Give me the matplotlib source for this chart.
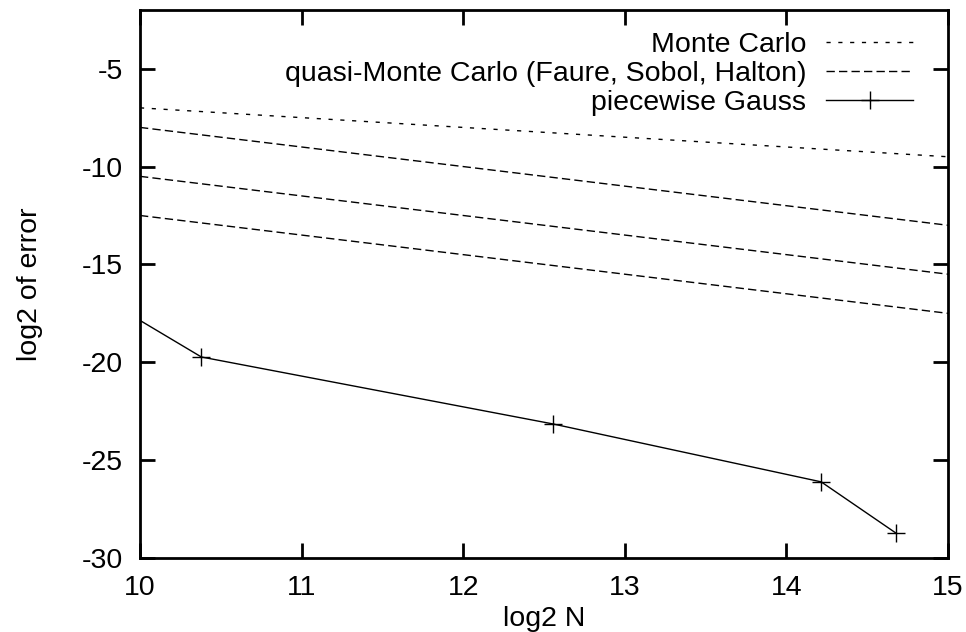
import matplotlib
matplotlib.use("Agg")
import matplotlib.pyplot as plt
import numpy as np

plt.rcParams['font.family'] = ['Liberation Sans', 'DejaVu Sans']

# convergence reference lines: log2 error at log2 N = 10 and 15
x_ends = [10, 15]
mc_err = [-7.0, -9.5]
qmc_errs = [
    [-8.0, -13.0],
    [-10.5, -15.5],
    [-12.5, -17.5],
]

# piecewise Gauss quadrature results
gauss_log2n = [9.0, 10.38, 12.555, 14.215, 14.68]
gauss_err = [-12.94, -19.73, -23.15, -26.11, -28.74]

x_ticks = [10, 11, 12, 13, 14, 15]
y_ticks = [-30, -25, -20, -15, -10, -5]

FS = 20.5

fig = plt.figure(figsize=(9.66, 6.32), dpi=100)
ax = fig.add_axes([0.1449, 0.1171, 0.9814 - 0.1449, 0.9842 - 0.1171])

lw = 1.0
mc_line, = ax.plot(x_ends, mc_err, color='black', lw=lw,
                   dashes=(3, 5.5), label='Monte Carlo')
qmc_line = None
for i, ys in enumerate(qmc_errs):
    ln, = ax.plot(x_ends, ys, color='black', lw=lw, dashes=(6, 3),
                  label='quasi-Monte Carlo (Faure, Sobol, Halton)' if i == 0 else None)
    if i == 0:
        qmc_line = ln
g_line, = ax.plot(gauss_log2n, gauss_err, color='black', lw=lw, marker='+',
                  markersize=13, markeredgewidth=1.0, label='piecewise Gauss')

ax.set_xlim(10, 15)
ax.set_ylim(-30, -2)
ax.set_xticks(x_ticks)
ax.set_yticks(y_ticks)
ax.set_xticklabels([str(v) for v in x_ticks])
ax.set_yticklabels([str(v) for v in y_ticks])

for s in ax.spines.values():
    s.set_linewidth(2.0)
ax.tick_params(direction='in', length=11, width=2.0, top=True, right=True,
               labelsize=FS, pad=12)

ax.set_xlabel('log2 N', fontsize=FS, labelpad=4)
ax.set_ylabel('log2 of error', fontsize=FS, labelpad=28)

leg = ax.legend(handles=[mc_line, qmc_line, g_line], loc='upper right',
                markerfirst=False, frameon=False, fontsize=FS,
                handlelength=3.05, handletextpad=0.7, labelspacing=0.1,
                borderaxespad=0.0, borderpad=0.0,
                bbox_to_anchor=(0.9566, 0.96))

fig.savefig('out.png', dpi=100)
